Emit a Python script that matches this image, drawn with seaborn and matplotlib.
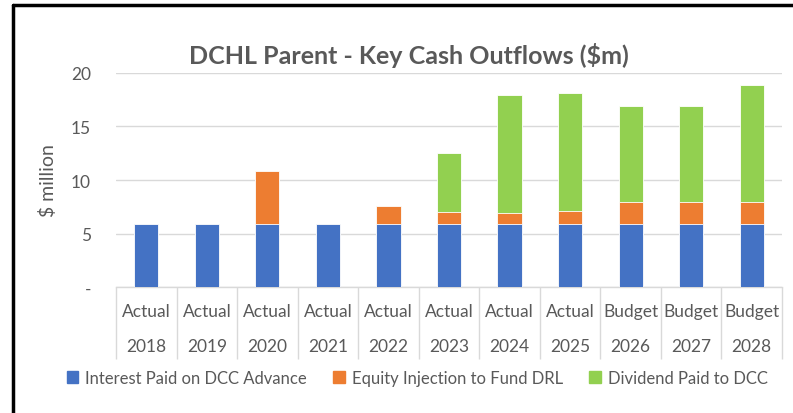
import matplotlib
matplotlib.use('Agg')
import matplotlib.pyplot as plt
import matplotlib.patches as mpatches
import seaborn as sns
import pandas as pd

# --- Data ($m) ---
scenarios = ['Actual', 'Actual', 'Actual', 'Actual', 'Actual', 'Actual',
             'Actual', 'Actual', 'Budget', 'Budget', 'Budget']
years     = ['2018', '2019', '2020', '2021', '2022', '2023',
             '2024', '2025', '2026', '2027', '2028']
interest  = [5.9, 5.9, 5.9, 5.9, 5.9, 5.9, 5.9, 5.9, 5.9, 5.9, 5.9]
equity    = [0.0, 0.0, 4.95, 0.0, 1.7, 1.15, 1.05, 1.25, 2.0, 2.0, 2.0]
dividend  = [0.0, 0.0, 0.0, 0.0, 0.0, 5.5, 11.0, 11.0, 9.0, 9.0, 11.0]

SERIES = ['Interest Paid on DCC Advance', 'Equity Injection to Fund DRL', 'Dividend Paid to DCC']
COLORS = ['#4472C4', '#ED7D31', '#92D050']
TEXT = '#595959'
GRID = '#D9D9D9'

df = pd.DataFrame({'key': [f'{s} {y}' for s, y in zip(scenarios, years)],
                   'interest': interest, 'equity': equity, 'dividend': dividend})
df['lvl1'] = df['interest']
df['lvl2'] = df['lvl1'] + df['equity']
df['lvl3'] = df['lvl2'] + df['dividend']

sns.set_theme(style='white')
plt.rcParams['font.family'] = ['Lato', 'DejaVu Sans']

fig = plt.figure(figsize=(7.93, 4.14), dpi=100)
ax = fig.add_axes([0.1463, 0.3043, 0.8398, 0.5170])

# stacked bars drawn as cumulative layers, top layer first
for col, color in zip(['lvl3', 'lvl2', 'lvl1'], COLORS[::-1]):
    sns.barplot(data=df, x='key', y=col, color=color, width=0.4,
                saturation=1, edgecolor='white', linewidth=0.6, ax=ax, zorder=3)

ax.set_ylim(0, 20)
ax.set_xlim(-0.5, len(years) - 0.5)
ax.set_yticks([0, 5, 10, 15, 20])
ax.set_yticklabels(['-', '5', '10', '15', '20'])
ax.yaxis.grid(True, color=GRID, linewidth=1, zorder=0)
ax.set_axisbelow(True)
for s in ['left', 'right', 'top']:
    ax.spines[s].set_visible(False)
ax.spines['bottom'].set_color(GRID)
ax.spines['bottom'].set_linewidth(1)
ax.tick_params(axis='y', length=0, pad=18, labelsize=12.5, labelcolor=TEXT)
ax.tick_params(axis='x', length=0)
ax.set_xticks([])
ax.set_xlabel('')
ax.set_ylabel('$ million', fontsize=14, color=TEXT, labelpad=10)

# two-level category axis
trans = ax.get_xaxis_transform()
for i, (s, y) in enumerate(zip(scenarios, years)):
    ax.text(i, -0.112, s, transform=trans, ha='center', va='center', fontsize=12.5, color=TEXT)
    ax.text(i, -0.276, y, transform=trans, ha='center', va='center', fontsize=12.5, color=TEXT)
ax.vlines([i - 0.5 for i in range(len(years) + 1)], -0.336, 0, transform=trans,
          colors=GRID, linewidth=1, clip_on=False)

fig.suptitle('DCHL Parent - Key Cash Outflows ($m)', x=0.516, y=0.895,
             fontsize=18, fontweight='bold', color=TEXT)

handles = [mpatches.Patch(color=c, label=l) for c, l in zip(COLORS, SERIES)]
fig.legend(handles=handles, loc='center', bbox_to_anchor=(0.526, 0.085), ncol=3,
           frameon=False, fontsize=12, handlelength=0.7, handleheight=0.7,
           handletextpad=0.4, columnspacing=1.6, labelcolor=TEXT)

# outer frame: left and top edges
fig.add_artist(plt.Line2D([0.0170, 0.0170], [0, 0.9843], color='black', linewidth=2.5,
                          transform=fig.transFigure))
fig.add_artist(plt.Line2D([0.0170, 1.0], [0.9843, 0.9843], color='black', linewidth=2.5,
                          transform=fig.transFigure))

fig.savefig('out.png', dpi=100, facecolor='white')
